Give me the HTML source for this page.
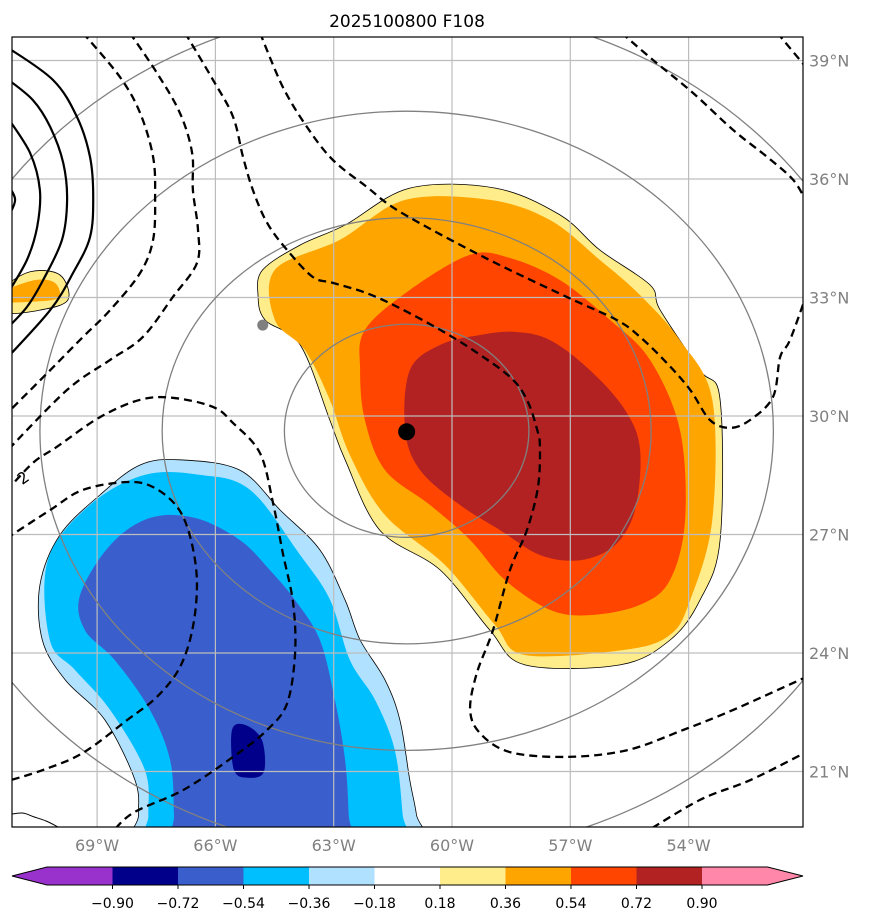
<!DOCTYPE html>
<html><head><meta charset="utf-8">
<style>
html,body{margin:0;padding:0;background:#fff;}
svg{display:block;font-family:"DejaVu Sans","Liberation Sans",sans-serif;}
</style></head>
<body>
<svg id="chart" width="873" height="924" viewBox="0 0 873 924" xmlns="http://www.w3.org/2000/svg">
  <rect x="0" y="0" width="873" height="924" fill="#fff"/>
  <text x="407" y="27" text-anchor="middle" font-size="17" fill="#000">2025100800 F108</text>
  <defs><clipPath id="plotclip"><rect x="12" y="37" width="791" height="790"/></clipPath></defs>
  <g id="fills" clip-path="url(#plotclip)"></g>
  <g id="grid" clip-path="url(#plotclip)"></g>
  <g id="rings" clip-path="url(#plotclip)"></g>
  <g id="contours" clip-path="url(#plotclip)"></g>
  <g id="marks" clip-path="url(#plotclip)"></g>
  <rect x="12" y="37" width="791" height="790" fill="none" stroke="#000" stroke-width="1.2"/>
  <g id="axes"></g>
  <g id="cbar"></g>
</svg>
<script>
// ---- data ----
const lonTicks = [-69, -66, -63, -60, -57, -54];
const latTicks = [21, 24, 27, 30, 33, 36, 39];
const cbLevels = [-0.90, -0.72, -0.54, -0.36, -0.18, 0.18, 0.36, 0.54, 0.72, 0.90];
const cbColors = ['#9932cc', '#00008b', '#3a5fcd', '#00bfff', '#b0e2ff', '#ffffff', '#ffec8b', '#ffa500', '#ff4500', '#b22222', '#ff88aa'];
const stormCenter = [-61.15, 29.6];
const initPoint = [-64.8, 32.3];
const ringRadiiDeg = [3.1, 6.2, 9.3, 12.4];

const posLevel1 = [[-64.8,33.7],[-63.85,34.33],[-62.7,34.84],[-61.07,35.77],[-58.9,35.77],[-57.26,35.09],[-56.25,34.2],[-54.98,33.32],[-54.72,32.68],[-53.71,31.16],[-53.2,30.41],[-53.2,26.86],[-53.71,25.34],[-54.47,24.33],[-55.74,23.7],[-58.15,23.7],[-59.04,24.58],[-60.3,26.1],[-61.83,27.11],[-62.71,28.89],[-63.1,29.9],[-63.85,31.8],[-64.74,32.43],[-64.92,33.06]];
const posLevel2 = [[-64.49,33.7],[-62.84,34.46],[-61.19,35.47],[-59.04,35.47],[-57.51,34.96],[-56.25,33.95],[-55.23,33.06],[-54.22,31.92],[-53.4,30.41],[-53.4,27.37],[-53.96,25.34],[-54.47,24.46],[-55.61,24.08],[-58.15,23.95],[-58.91,24.71],[-60.18,26.23],[-61.7,27.49],[-62.59,29.01],[-63.1,30.41],[-63.73,31.67],[-64.49,32.43]];
const posLevel3 = [[-62.21,32.18],[-61.07,33.19],[-59.54,34.08],[-58.53,34.0],[-57.26,33.44],[-55.99,32.43],[-54.98,31.42],[-54.22,29.65],[-54.09,27.37],[-54.47,25.85],[-55.23,25.22],[-56.5,24.96],[-57.51,25.09],[-58.66,25.85],[-59.54,26.86],[-60.56,27.75],[-61.7,28.63],[-62.21,29.9],[-62.33,31.16]];
const posLevel4 = [[-61.07,31.16],[-60.3,31.8],[-59.29,32.05],[-58.4,32.13],[-57.51,31.92],[-56.5,31.16],[-55.61,30.15],[-55.23,29.14],[-55.36,27.62],[-55.87,26.73],[-56.75,26.35],[-57.77,26.48],[-58.78,27.11],[-59.8,27.75],[-60.81,28.63],[-61.19,29.65]];
const smallPos1 = [[-71.4,33.19],[-70.7,33.65],[-69.94,33.57],[-69.74,32.94],[-70.45,32.68],[-71.4,32.63]];
const smallPos2 = [[-71.4,33.14],[-70.58,33.44],[-70.07,33.37],[-69.99,32.99],[-70.7,32.89],[-71.4,32.9]];
const negLevel1 = [[-70.45,25.72],[-69.94,26.99],[-68.93,28.0],[-67.91,28.76],[-66.9,28.89],[-65.38,28.63],[-64.36,27.62],[-63.35,26.61],[-62.71,25.34],[-62.33,24.33],[-61.7,23.32],[-61.32,22.3],[-61.07,20.78],[-60.9,19.9],[-60.8,18.9],[-64.5,18.6],[-68.0,18.9],[-67.95,19.9],[-68.04,20.78],[-68.8,22.3],[-69.81,23.32],[-70.39,24.33]];
const negLevel2 = [[-70.25,26.35],[-69.18,27.75],[-67.79,28.51],[-66.39,28.51],[-65.12,28.13],[-63.85,26.48],[-63.09,25.34],[-62.59,23.82],[-61.95,22.81],[-61.45,21.54],[-61.25,19.9],[-61.2,18.9],[-64.5,18.6],[-67.7,18.9],[-67.7,19.9],[-67.79,21.04],[-68.67,22.56],[-69.56,23.57],[-70.2,24.33]];
const negLevel3 = [[-69.43,25.47],[-68.67,26.73],[-67.66,27.42],[-66.52,27.42],[-65.38,26.86],[-64.62,26.1],[-63.98,25.34],[-63.35,24.33],[-62.97,22.81],[-62.71,21.29],[-62.62,19.9],[-62.6,18.9],[-64.8,18.6],[-67.05,18.9],[-67.05,19.9],[-67.15,21.29],[-67.66,22.56],[-68.55,23.82],[-69.31,24.58]];
const negLevel4 = [[-65.58,22.05],[-65.25,22.18],[-64.82,21.8],[-64.77,20.99],[-65.17,20.84],[-65.53,21.04]];

const dashA = [[-69.36,39.7],[-68.42,38.58],[-67.91,37.67],[-67.58,36.56],[-67.53,35.55],[-67.58,34.46],[-67.91,33.62],[-68.67,32.68],[-69.36,32.0],[-70.19,31.16],[-71.3,30.05]];
const dashB = [[-68.17,39.7],[-67.48,38.68],[-66.9,37.67],[-66.59,36.66],[-66.57,35.72],[-66.44,34.71],[-66.47,33.87],[-67.08,33.01],[-67.84,32.0],[-68.67,31.42],[-69.76,30.66],[-71.3,29.1]];
const dashC = [[-66.77,39.7],[-66.06,38.51],[-65.55,37.57],[-65.3,36.56],[-65.05,35.72],[-64.69,34.89],[-64.18,34.2],[-63.53,33.52],[-63.02,33.37],[-62.16,33.11],[-61.32,32.73],[-60.3,32.18],[-59.47,31.67],[-58.53,30.99],[-58.1,30.41],[-57.84,29.65],[-57.77,29.22],[-57.82,28.2],[-58.1,27.11],[-58.53,26.1],[-58.96,24.58],[-59.37,23.49],[-59.54,22.56],[-59.29,21.97],[-58.53,21.49],[-57.08,21.37],[-55.56,21.54],[-54.14,22.05],[-52.87,22.56],[-51.0,23.4]];
const dashD = [[-64.87,39.7],[-64.29,38.33],[-63.68,37.32],[-63.02,36.48],[-62.16,35.8],[-61.32,35.17],[-59.21,34.03],[-57.08,33.01],[-55.82,32.43],[-55.23,32.0],[-54.55,31.34],[-53.96,30.66],[-53.46,29.9],[-52.95,29.7],[-52.44,29.9],[-51.86,30.48],[-51.68,31.49],[-51.43,31.92],[-51.0,33.1]];
const dashE = [[-71.3,28.1],[-70.63,28.81],[-70.02,29.22],[-68.93,29.97],[-67.91,30.41],[-67.08,30.46],[-66.06,30.23],[-65.55,29.82],[-64.87,29.06],[-64.54,27.8],[-64.29,26.53],[-64.03,25.27],[-63.98,24.0],[-64.18,22.73],[-64.69,22.05],[-65.55,21.37],[-66.82,20.53],[-68.09,19.95],[-68.67,19.4]];
const dashF = [[-55.7,39.7],[-54.9,39.01],[-53.89,38.18],[-52.87,37.24],[-52.01,36.56],[-51.35,35.98],[-51.0,35.4]];
const dashG = [[-51.75,39.7],[-51.0,38.8]];
const dashH = [[-55.2,19.4],[-53.71,20.28],[-52.44,20.78],[-51.0,21.5]];
const dashI = [[-71.3,26.9],[-70.19,27.62],[-69.36,28.13],[-68.24,28.33],[-67.58,28.2],[-66.97,27.7],[-66.64,26.94],[-66.47,25.85],[-66.57,24.66],[-66.9,23.64],[-67.48,22.89],[-68.24,22.3],[-69.36,21.47],[-70.37,21.04],[-71.3,20.75]];
const solid1 = [[-71.3,39.35],[-70.12,38.51],[-69.51,37.57],[-69.18,36.56],[-69.1,35.55],[-69.18,34.53],[-69.61,33.62],[-70.19,32.68],[-71.3,31.45]];
const solid2 = [[-71.3,38.55],[-70.63,38.0],[-70.19,37.32],[-69.86,36.41],[-69.76,35.47],[-69.89,34.46],[-70.37,33.44],[-70.78,32.76],[-71.3,32.2]];
const solid3 = [[-71.3,37.6],[-70.7,36.66],[-70.45,35.72],[-70.52,34.79],[-70.78,33.95],[-71.3,33.05]];
const solid4 = [[-71.3,35.9],[-71.08,35.47],[-71.3,34.95]];
const coast = [[-71.3,19.9],[-70.9,19.95],[-70.6,19.85],[-70.3,19.75],[-70.0,19.6]];

// ---- axes ----
const X0 = 452, KX = 118.3/3, Y0 = 416, KY = 118.5/3;
function xs(lon){ return X0 + (lon + 60) * KX; }
function ys(lat){ return Y0 - (lat - 30) * KY; }
const NS = 'http://www.w3.org/2000/svg';
function mk(tag, attrs, parent){ const e = document.createElementNS(NS, tag); for (const k in attrs) e.setAttribute(k, attrs[k]); parent.appendChild(e); return e; }
function smooth(pts, closed){
  const P = pts.map(p => [xs(p[0]), ys(p[1])]);
  const n = P.length;
  let d = 'M' + P[0][0].toFixed(1) + ',' + P[0][1].toFixed(1);
  const segs = closed ? n : n - 1;
  for (let i = 0; i < segs; i++){
    const p0 = P[closed ? (i - 1 + n) % n : Math.max(i - 1, 0)];
    const p1 = P[i], p2 = P[(i + 1) % n];
    const p3 = P[closed ? (i + 2) % n : Math.min(i + 2, n - 1)];
    const c1 = [p1[0] + (p2[0] - p0[0]) / 6, p1[1] + (p2[1] - p0[1]) / 6];
    const c2 = [p2[0] - (p3[0] - p1[0]) / 6, p2[1] - (p3[1] - p1[1]) / 6];
    d += 'C' + c1[0].toFixed(1) + ',' + c1[1].toFixed(1) + ' ' + c2[0].toFixed(1) + ',' + c2[1].toFixed(1) + ' ' + p2[0].toFixed(1) + ',' + p2[1].toFixed(1);
  }
  return d + (closed ? 'Z' : '');
}

// fills
const fills = document.getElementById('fills');
const fillSpecs = [
  [posLevel1, cbColors[6], true, 'shade-pos-018'], [posLevel2, cbColors[7], false, 'shade-pos-036'],
  [posLevel3, cbColors[8], false, 'shade-pos-054'], [posLevel4, cbColors[9], false, 'shade-pos-072'],
  [smallPos1, cbColors[6], true, 'shade-small-pos-018'], [smallPos2, cbColors[7], false, 'shade-small-pos-036'],
  [negLevel1, cbColors[4], true, 'shade-neg-018'], [negLevel2, cbColors[3], false, 'shade-neg-036'],
  [negLevel3, cbColors[2], false, 'shade-neg-054'], [negLevel4, cbColors[1], false, 'shade-neg-072']
];
fillSpecs.forEach(s => {
  const p = mk('path', {d: smooth(s[0], true), fill: s[1], stroke: s[2] ? '#000' : 'none', 'stroke-width': 0.8}, fills);
  
  
});

// grid
const grid = document.getElementById('grid');
lonTicks.forEach(l => {
  const ln = mk('line', {x1: xs(l), x2: xs(l), y1: 37, y2: 827, stroke: '#bdbdbd', 'stroke-width': 1.2}, grid);
  
  
});
latTicks.forEach(l => {
  const ln = mk('line', {x1: 12, x2: 803, y1: ys(l), y2: ys(l), stroke: '#bdbdbd', 'stroke-width': 1.2}, grid);
  
  
});

// rings
const rings = document.getElementById('rings');
ringRadiiDeg.forEach(r => {
  const e = mk('ellipse', {cx: xs(stormCenter[0]), cy: ys(stormCenter[1]) - 1, rx: r * KX, ry: r * KY * 0.87, fill: 'none', stroke: '#808080', 'stroke-width': 1.3}, rings);
  
  
});

// contours
const cont = document.getElementById('contours');
[dashA, dashB, dashC, dashD, dashE, dashF, dashG, dashH, dashI].forEach(c => {
  const p = mk('path', {d: smooth(c, false), fill: 'none', stroke: '#000', 'stroke-width': 2.3, 'stroke-dasharray': '8,5'}, cont);
  
  
});
[solid1, solid2, solid3, solid4].forEach(c => {
  const p = mk('path', {d: smooth(c, false), fill: 'none', stroke: '#000', 'stroke-width': 2.2}, cont);
  
  
});
const cst = mk('path', {d: smooth(coast, false), fill: 'none', stroke: '#000', 'stroke-width': 1}, cont);


const lbl = mk('text', {x: 18, y: 484, 'font-size': 16, fill: '#000', transform: 'rotate(-35 22 478)'}, cont);
lbl.textContent = '2';



// markers
const marks = document.getElementById('marks');
const gd = mk('circle', {cx: xs(initPoint[0]), cy: ys(initPoint[1]), r: 5.5, fill: '#808080'}, marks);


const bd = mk('circle', {cx: xs(stormCenter[0]), cy: ys(stormCenter[1]), r: 8.5, fill: '#000'}, marks);



// axis labels
const axes = document.getElementById('axes');
lonTicks.forEach(l => {
  const t = mk('text', {x: xs(l), y: 851, 'text-anchor': 'middle', 'font-size': 16, fill: '#808080'}, axes);
  t.textContent = Math.abs(l) + '°W';
  
  
});
latTicks.forEach(l => {
  const t = mk('text', {x: 809, y: ys(l) + 6, 'text-anchor': 'start', 'font-size': 16, fill: '#808080'}, axes);
  t.textContent = l + '°N';
  
  
});

// colorbar
const cb = document.getElementById('cbar');
const CB0 = 47, CBW = 65.5, CBT = 867, CBB = 885;
function cbx(i){ return CB0 + i * CBW; }
cbColors.forEach((c, i) => {
  let el;
  if (i === 0) el = mk('polygon', {points: `${cbx(1)},${CBT} ${cbx(0)},${CBT} 12,${(CBT + CBB) / 2} ${cbx(0)},${CBB} ${cbx(1)},${CBB}`, fill: c}, cb);
  else if (i === cbColors.length - 1) el = mk('polygon', {points: `${cbx(i)},${CBT} ${cbx(i + 1)},${CBT} 803,${(CBT + CBB) / 2} ${cbx(i + 1)},${CBB} ${cbx(i)},${CBB}`, fill: c}, cb);
  else el = mk('rect', {x: cbx(i), y: CBT, width: CBW + 0.5, height: CBB - CBT, fill: c}, cb);
  
  
});
const outline = mk('polygon', {points: `12,${(CBT + CBB) / 2} ${cbx(0)},${CBT} ${cbx(11)},${CBT} 803,${(CBT + CBB) / 2} ${cbx(11)},${CBB} ${cbx(0)},${CBB}`, fill: 'none', stroke: '#000', 'stroke-width': 1}, cb);


cbLevels.forEach((v, i) => {
  const x = cbx(i + 1);
  const tk = mk('line', {x1: x, x2: x, y1: CBB, y2: CBB + 4, stroke: '#000', 'stroke-width': 1}, cb);
  
  
  const t = mk('text', {x: x, y: 908, 'text-anchor': 'middle', 'font-size': 14, fill: '#000'}, cb);
  t.textContent = (v < 0 ? '\u2212' : '') + Math.abs(v).toFixed(2);
  
  
});
</script>
</body></html>
